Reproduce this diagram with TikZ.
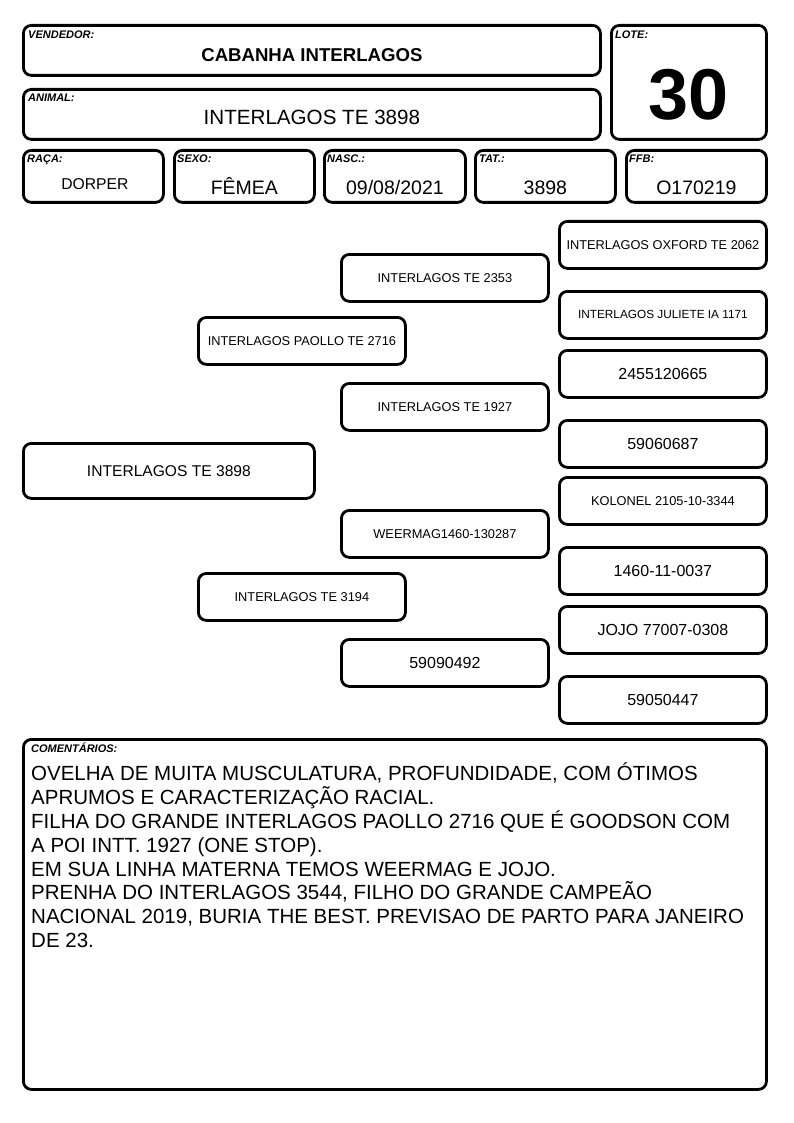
\documentclass[tikz,border=0pt]{standalone}
\usepackage{fontspec}
\setmainfont{Liberation Sans}
\usetikzlibrary{positioning}

\begin{document}
\begin{tikzpicture}[
		x=1pt, y=-1pt,
		framebox/.style={shape=rectangle, draw, line width=2.8pt, rounded corners=8pt, anchor=north west, inner sep=0pt},
		pedbox/.style={framebox, minimum width=207pt, minimum height=47pt, align=center},
		tag/.style={anchor=base west, inner sep=0pt, font=\fontsize{11pt}{12pt}\selectfont\bfseries\itshape},
		val/.style={anchor=base, inner sep=0pt, font=\fontsize{19.5pt}{23pt}\selectfont},
		small/.style={font=\fontsize{12.8pt}{15pt}\selectfont},
		num/.style={font=\fontsize{16pt}{19pt}\selectfont}
		]
		\useasboundingbox (0,0) rectangle (794,1123);
		% header
		\node[framebox, minimum width=577pt, minimum height=50pt] (vendbox) at (22,24) {};
		\node[framebox, minimum width=155pt, minimum height=114pt] (lotebox) at (610,24) {};
		\node[framebox, minimum width=577pt, minimum height=50pt] (animalbox) at (22,88) {};
		\node[framebox, minimum width=140pt, minimum height=52pt] (racabox) at (22,149) {};
		\node[framebox, minimum width=140pt, minimum height=52pt] (sexobox) at (173,149) {};
		\node[framebox, minimum width=141pt, minimum height=52pt] (nascbox) at (323,149) {};
		\node[framebox, minimum width=140pt, minimum height=52pt] (tatbox) at (474,149) {};
		\node[framebox, minimum width=140pt, minimum height=52pt] (ffbbox) at (625,149) {};
		\node[tag] (vendtag) at (28,39) {VENDEDOR:};
		\node[tag] (lotetag) at (615,39) {LOTE:};
		\node[tag] (animaltag) at (28,102) {ANIMAL:};
		\node[tag] (racatag) at (27,163) {RAÇA:};
		\node[tag] (sexotag) at (177,163) {SEXO:};
		\node[tag] (nasctag) at (327,163) {NASC.:};
		\node[tag] (tattag) at (479,163) {TAT.:};
		\node[tag] (ffbtag) at (629,163) {FFB:};
		\node[val, font=\fontsize{18.6pt}{22pt}\selectfont\bfseries] (vendval) at ([yshift=-11pt]vendbox.center) {CABANHA INTERLAGOS};
		\node[val, font=\fontsize{72pt}{80pt}\selectfont\bfseries] (loteval) at ([yshift=-37pt]lotebox.center) {30};
		\node[val, font=\fontsize{20.6pt}{24pt}\selectfont] (animalval) at ([yshift=-10pt]animalbox.center) {INTERLAGOS TE 3898};
		\node[val, font=\fontsize{15.7pt}{19pt}\selectfont] (racaval) at ([xshift=1.5pt, yshift=-13pt]racabox.center) {DORPER};
		\node[val] (sexoval) at ([yshift=-18pt]sexobox.center) {FÊMEA};
		\node[val] (nascval) at ([yshift=-18pt]nascbox.center) {09/08/2021};
		\node[val] (tatval) at ([yshift=-18pt]tatbox.center) {3898};
		\node[val] (ffbval) at ([yshift=-18pt]ffbbox.center) {O170219};
		% pedigree
		\node[framebox, minimum width=291pt, minimum height=55pt, font=\fontsize{15.6pt}{19pt}\selectfont] (subj) at (22,442) {INTERLAGOS TE 3898};
		\node[pedbox, small] (s) at (197,316) {INTERLAGOS PAOLLO TE 2716};
		\node[pedbox, small] (d) at (197,572) {INTERLAGOS TE 3194};
		\node[pedbox, small] (ss) at (340,253) {INTERLAGOS TE 2353};
		\node[pedbox, small] (sd) at (340,382) {INTERLAGOS TE 1927};
		\node[pedbox, small] (ds) at (340,509) {WEERMAG1460-130287};
		\node[pedbox, num] (dd) at (340,638) {59090492};
		\node[pedbox, small] (sss) at (558,220) {INTERLAGOS OXFORD TE 2062};
		\node[pedbox, font=\fontsize{11.8pt}{14pt}\selectfont] (ssd) at (558,290) {INTERLAGOS JULIETE IA 1171};
		\node[pedbox, num] (sds) at (558,349) {2455120665};
		\node[pedbox, num] (sdd) at (558,419) {59060687};
		\node[pedbox, small] (dss) at (558,476) {KOLONEL 2105-10-3344};
		\node[pedbox, num] (dsd) at (558,546) {1460-11-0037};
		\node[pedbox, num] (dds) at (558,605) {JOJO 77007-0308};
		\node[pedbox, num] (ddd) at (558,675) {59050447};
		% comments
		\node[framebox, minimum width=743pt, minimum height=350pt] (combox) at (22,738) {};
		\node[tag] (comtag) at (31,752) {COMENTÁRIOS:};
		\node[anchor=north west, inner sep=0pt, align=left, font=\fontsize{20.5pt}{23.8pt}\selectfont] (comtext) at (31,763) {OVELHA DE MUITA MUSCULATURA, PROFUNDIDADE, COM ÓTIMOS\\
			APRUMOS E CARACTERIZAÇÃO RACIAL.\\
			FILHA DO GRANDE INTERLAGOS PAOLLO 2716 QUE É GOODSON COM\\
			A POI INTT. 1927 (ONE STOP).\\
			EM SUA LINHA MATERNA TEMOS WEERMAG E JOJO.\\
			PRENHA DO INTERLAGOS 3544, FILHO DO GRANDE CAMPEÃO\\
			NACIONAL 2019, BURIA THE BEST. PREVISAO DE PARTO PARA JANEIRO\\
			DE 23.};
	\end{tikzpicture}
\end{document}
